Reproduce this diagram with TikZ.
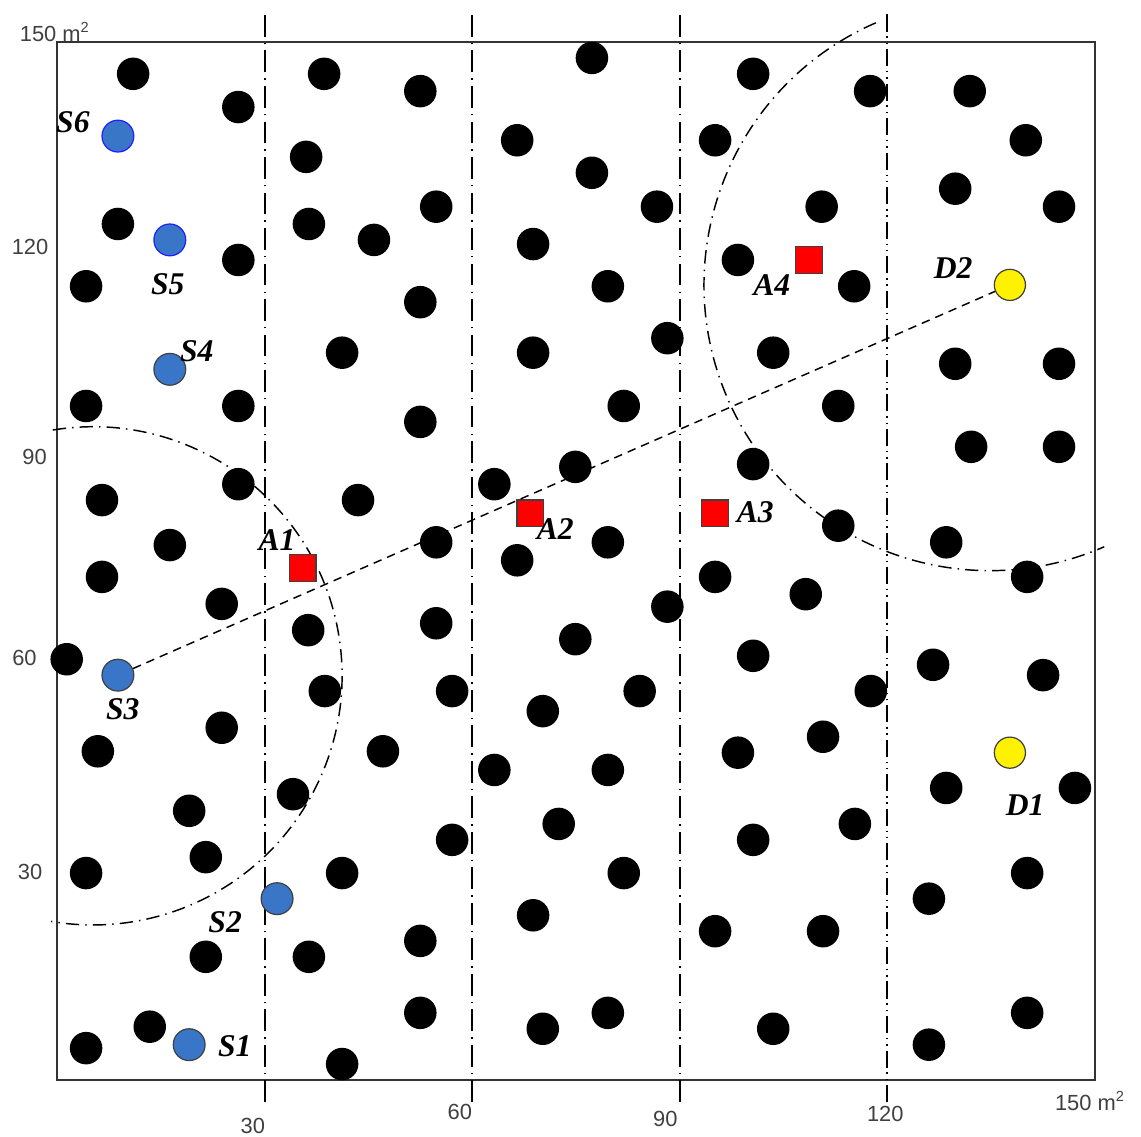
\documentclass[tikz,border=0pt]{standalone}
\usepackage{fontspec}
\setmainfont{Liberation Serif}
\newfontfamily\axisfont{Liberation Sans}

\definecolor{srcblue}{RGB}{58,118,200}
\definecolor{srcedge}{RGB}{30,30,255}

\tikzset{
  dot/.style={circle, fill=black, inner sep=0pt, minimum size=4.7mm},
  src/.style={circle, fill=srcblue, draw=black!75, line width=0.5pt, inner sep=0pt, minimum size=4.6mm},
  anch/.style={rectangle, fill=red, draw=black!75, line width=0.5pt, inner sep=0pt, minimum size=3.85mm},
  dst/.style={circle, fill=yellow, draw=black!75, line width=0.5pt, inner sep=0pt, minimum size=4.5mm},
  tag/.style={font=\fontsize{13}{13}\selectfont\bfseries\itshape, inner sep=0pt},
  axlbl/.style={font=\axisfont\fontsize{9}{9}\selectfont, text=black!75, inner sep=0pt},
  gridline/.style={line width=0.8pt, dash pattern=on 9pt off 2.5pt on 0.6pt off 2.5pt},
  ring/.style={line width=0.6pt, dash pattern=on 5.5pt off 2.5pt on 0.6pt off 2.5pt}
}

\begin{document}
\begin{tikzpicture}[x=1mm, y=1mm]
\useasboundingbox (-8.24,-8.24) rectangle (156.65,156.07);
% field, 150 x 150 m^2
\draw[line width=0.8pt, black!80] (0,0) rectangle (150,150);
% column borders (the last one is dash-dot-dot)
\foreach \x in {30,60,90}
  \draw[gridline] (\x,-3.2) -- (\x,154);
\draw[line width=0.8pt, dash pattern=on 7pt off 2pt on 0.6pt off 2pt on 0.6pt off 2pt] (120,-3.2) -- (120,154);
% ranges round S3 and D2
\draw[ring] (5.2,58.4) ++(99.3:36) arc[start angle=99.3, end angle=-99.7, radius=36];
\draw[ring] (134.8,114.9) ++(113.5:41.3) arc[start angle=113.5, end angle=293.6, radius=41.3];
% axis labels
\node[axlbl] (corner) at (-0.3,151.4) {150 m\textsuperscript{2}};
\node[axlbl] (xend) at (149.3,-3.0) {150 m\textsuperscript{2}};
\foreach \x/\y/\t [count=\i] in {-3.9/120.4/120, -3.25/90.0/90, -4.7/61.0/60, -3.9/30.1/30}
  \node[axlbl] (ylab\i) at (\x,\y) {\t};
\foreach \x/\y/\t [count=\i] in {28.3/-6.6/30, 58.2/-4.6/60, 87.9/-5.6/90, 119.7/-4.9/120}
  \node[axlbl] (xlab\i) at (\x,\y) {\t};
% ordinary nodes
\foreach \x/\y [count=\i] in {
  11/145.4, 38.6/145.4, 77.3/147.7, 100.6/145.4, 117.5/142.9, 131.9/142.9, 52.5/142.9,
  26.2/140.6, 66.5/135.8, 95.1/135.8, 140.0/135.8, 36.0/133.4, 77.3/131.1, 129.8/128.8,
  86.7/126.2, 54.8/126.2, 110.5/126.2, 144.8/126.2, 8.8/123.7, 36.4/123.7, 45.8/121.4,
  68.8/120.8, 26.2/118.5, 98.4/118.5, 4.2/114.7, 79.6/114.7, 115.2/114.7, 52.5/112.4,
  88.2/107.2, 41.2/105.1, 68.8/105.1, 103.5/105.1, 129.8/103.5, 144.8/103.5, 81.9/97.4,
  26.2/97.4, 4.2/97.4, 112.9/97.4, 52.5/95.1, 132.1/91.5, 144.8/91.5, 74.9/88.6,
  100.6/89.0, 63.2/86.1, 26.2/86.1, 6.5/83.8, 43.5/83.8, 16.3/77.3, 54.8/77.7, 79.6/77.7,
  112.9/80.1, 128.5/77.7, 66.5/75.1, 6.5/72.7, 95.1/72.7, 140.2/72.7, 108.2/70.2,
  23.8/68.8, 88.2/68.4, 36.3/65.0, 54.8/66.0, 74.9/63.7, 1.4/60.8, 100.6/61.3, 126.6/60.0,
  142.5/58.5, 38.7/56.2, 57.1/56.2, 84.2/56.2, 117.6/56.2, 70.2/53.3, 23.8/50.9, 5.9/47.5,
  47.1/47.5, 98.4/47.3, 110.7/49.6, 63.2/44.8, 79.6/44.8, 128.5/42.2, 147.1/42.2,
  34.1/41.3, 19.1/38.9, 72.5/37.0, 115.3/37.0, 57.1/34.7, 100.6/34.7, 21.5/32.2, 4.2/29.9,
  41.2/29.9, 81.9/29.9, 140.2/29.9, 126.0/26.2, 68.8/23.8, 95.1/21.5, 110.7/21.5,
  52.5/20.1, 21.5/17.8, 36.4/17.8, 52.5/9.7, 79.6/9.7, 140.2/9.7, 13.4/7.7, 70.2/7.4,
  103.5/7.4, 4.2/4.6, 41.2/2.3, 126.0/5.1}
  \node[dot] (n\i) at (\x,\y) {};
% sources
\node[src] (S1) at (19.1,5.1) {};
\node[src] (S2) at (31.8,26.2) {};
\node[src] (S3) at (8.8,58.5) {};
\node[src] (S4) at (16.3,102.7) {};
\node[src, draw=srcedge] (S5) at (16.3,121.4) {};
\node[src, draw=srcedge] (S6) at (8.8,136.4) {};
% anchors
\node[anch] (A1) at (35.5,74.0) {};
\node[anch] (A2) at (68.4,81.9) {};
\node[anch] (A3) at (95.1,81.9) {};
\node[anch] (A4) at (108.7,118.5) {};
% destinations
\node[dst] (D1) at (137.7,47.3) {};
\node[dst] (D2) at (137.7,114.9) {};
% path S3 -> D2
\draw[line width=0.6pt, dash pattern=on 3.5pt off 2.5pt] (S3) -- (D2);
% tags
\node[tag] (tS1) at (25.7,4.9) {S1};
\node[tag] (tS2) at (24.3,22.8) {S2};
\node[tag] (tS3) at (9.5,53.6) {S3};
\node[tag] (tS4) at (20.2,105.3) {S4};
\node[tag] (tS5) at (16.0,115.0) {S5};
\node[tag] (tS6) at (2.3,138.4) {S6};
\node[tag] (tA1) at (31.8,78.0) {A1};
\node[tag] (tA2) at (72.0,79.6) {A2};
\node[tag] (tA3) at (100.9,82.1) {A3};
\node[tag] (tA4) at (103.3,114.9) {A4};
\node[tag] (tD1) at (139.9,39.7) {D1};
\node[tag] (tD2) at (129.5,117.3) {D2};
\end{tikzpicture}
\end{document}
